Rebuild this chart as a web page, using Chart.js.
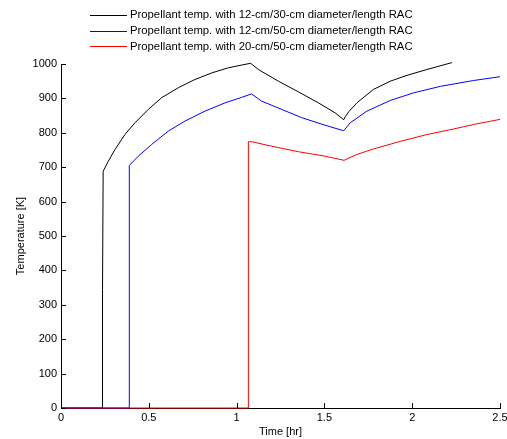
<!DOCTYPE html>
<html>
<head>
<meta charset="utf-8">
<script src="https://cdn.jsdelivr.net/npm/chart.js@4"></script>
<style>
  html,body{margin:0;padding:0;background:#fff;}
  #wrap{width:507px;height:439px;}
</style>
</head>
<body>
<div id="wrap"><canvas id="c" width="507" height="439"></canvas></div>
<script>
// --- data (time in hr, temperature in K) ---
const seriesLabels = [
  'Propellant temp. with 12-cm/30-cm diameter/length RAC',
  'Propellant temp. with 12-cm/50-cm diameter/length RAC',
  'Propellant temp. with 20-cm/50-cm diameter/length RAC'
];
const seriesColors = ['#000000', '#0000ff', '#ff0000'];

const blackTime = [0, 0.234, 0.235, 0.238, 0.240, 0.269, 0.307, 0.364, 0.421, 0.497, 0.573, 0.668, 0.763, 0.858, 0.953, 1.029, 1.080,
                   1.124, 1.238, 1.352, 1.466, 1.561, 1.610, 1.620, 1.640, 1.685, 1.779, 1.875, 1.970, 2.084, 2.226];
const blackTemp = [0, 0, 345, 345, 688, 717, 751, 795, 829, 868, 902, 931, 955, 974, 989, 997, 1002,
                   984, 950, 919, 887, 858, 838, 848, 862, 887, 926, 950, 967, 984, 1004];

const blueTime = [0, 0.388, 0.389, 0.440, 0.516, 0.611, 0.706, 0.820, 0.934, 1.029, 1.084,
                  1.143, 1.257, 1.371, 1.504, 1.610, 1.647, 1.742, 1.875, 2.007, 2.160, 2.349, 2.500];
const blueTemp = [0, 0, 705, 732, 766, 805, 834, 863, 887, 903, 913,
                  892, 868, 844, 822, 806, 829, 863, 894, 916, 935, 952, 963];

const redTime = [0, 1.066, 1.067, 1.086, 1.200, 1.352, 1.504, 1.612, 1.685, 1.779, 1.932, 2.084, 2.235, 2.349, 2.500];
const redTemp = [0, 0, 774, 774, 761, 745, 732, 720, 737, 753, 775, 795, 811, 824, 839];

const xTicks = [0, 0.5, 1, 1.5, 2, 2.5];

function pts(xs, ys){ return xs.map((x,i)=>({x:x, y:ys[i]})); }

const FONT = 'Liberation Sans, Arial, Helvetica, sans-serif';
Chart.defaults.font.family = FONT;
Chart.defaults.font.size = 11;
Chart.defaults.color = '#000';

// inward tick marks like the original
const inwardTicks = {
  id:'inwardTicks',
  afterDatasetsDraw(chart){
    const ctx = chart.ctx, a = chart.chartArea;
    const xs = chart.scales.x, ys = chart.scales.y;
    ctx.save();
    ctx.strokeStyle = '#000';
    ctx.lineWidth = 1;
    ctx.beginPath();
    xs.ticks.forEach(t=>{
      const px = Math.round(xs.getPixelForValue(t.value)) + 0.5;
      ctx.moveTo(px, a.bottom); ctx.lineTo(px, a.bottom - 5);
    });
    ys.ticks.forEach(t=>{
      const py = Math.round(ys.getPixelForValue(t.value)) + 0.5;
      ctx.moveTo(a.left, py); ctx.lineTo(a.left + 5, py);
    });
    ctx.stroke();
    ctx.restore();
  }
};

// stacked legend, one row per series, centered
const rowLegend = {
  id:'rowLegend',
  afterDraw(chart){
    const ctx = chart.ctx;
    ctx.save();
    ctx.font = '11.3px ' + FONT;
    ctx.textBaseline = 'middle';
    ctx.textAlign = 'left';
    const widest = Math.max(...seriesLabels.map(s=>ctx.measureText(s).width));
    const lineLen = 37, gap = 3;
    const x0 = Math.round((chart.width - (lineLen + gap + widest)) / 2) - 2;
    seriesLabels.forEach((lab,i)=>{
      const y = 15 + i * 15.7;
      ctx.strokeStyle = seriesColors[i];
      ctx.lineWidth = 1;
      ctx.beginPath();
      ctx.moveTo(x0, Math.round(y) + 0.5);
      ctx.lineTo(x0 + lineLen, Math.round(y) + 0.5);
      ctx.stroke();
      ctx.fillStyle = '#000';
      ctx.fillText(lab, x0 + lineLen + gap, y);
    });
    ctx.restore();
  }
};

const datasets = [
  {label:seriesLabels[0], data:pts(blackTime, blackTemp), borderColor:seriesColors[0], order:3},
  {label:seriesLabels[1], data:pts(blueTime, blueTemp), borderColor:seriesColors[1], order:2},
  {label:seriesLabels[2], data:pts(redTime, redTemp), borderColor:seriesColors[2], order:1}
].map(d=>Object.assign(d,{borderWidth:1, pointRadius:0, tension:0, fill:false, clip:false}));

new Chart(document.getElementById('c'),{
  type:'line',
  data:{datasets},
  plugins:[inwardTicks, rowLegend],
  options:{
    responsive:false,
    animation:false,
    layout:{padding:{top:64, right:0, left:0, bottom:0}},
    plugins:{legend:{display:false}, tooltip:{enabled:false}},
    scales:{
      x:{
        type:'linear', min:0, max:2.5,
        afterBuildTicks: s=>{ s.ticks = xTicks.map(v=>({value:v})); },
        afterFit: s=>{ s.height = 31; s.paddingRight = 7; },
        grid:{display:false, drawTicks:false},
        border:{display:true, color:'#000', width:1},
        ticks:{padding:3, maxRotation:0, callback:v=>String(v)},
        title:{display:true, text:'Time [hr]', padding:{top:0, bottom:0}}
      },
      y:{
        min:0, max:1000,
        ticks:{stepSize:100, padding:4, callback:v=>String(v)},
        afterFit: s=>{ s.width = 61; },
        grid:{display:false, drawTicks:false},
        border:{display:true, color:'#000', width:1},
        title:{display:true, text:'Temperature [K]', padding:{top:14, bottom:0}}
      }
    }
  }
});
</script>
</body>
</html>
